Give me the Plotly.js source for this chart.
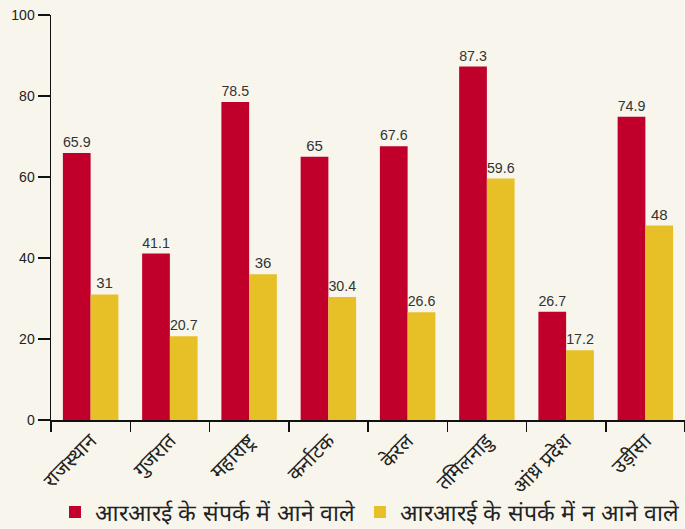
<!DOCTYPE html>
<html>
<head>
<meta charset="utf-8">
<script src="https://cdn.plot.ly/plotly-3.0.1.min.js"></script>
<style>
html,body{margin:0;padding:0;background:#f8f6ec;}
#chart{width:685px;height:529px;}
</style>
</head>
<body>
<div id="chart"></div>
<script>
var states = ['राजस्थान','गुजरात','महाराष्ट्र','कर्नाटक','केरल','तमिलनाडु','आंध्र प्रदेश','उड़ीसा'];
var exposed = [65.9, 41.1, 78.5, 65, 67.6, 87.3, 26.7, 74.9];
var notExposed = [31, 20.7, 36, 30.4, 26.6, 59.6, 17.2, 48];
var seriesNames = ['आरआरई के संपर्क में आने वाले', 'आरआरई के संपर्क में न आने वाले'];
var yTicks = [0, 20, 40, 60, 80, 100];

var labelFont = {family: 'Liberation Sans, Arial, sans-serif', size: 15, color: '#333'};

var traces = [
  {type:'bar', x: states, y: exposed, name: seriesNames[0], marker:{color:'#c0002b'},
   text: exposed.map(String), textposition:'outside', textfont: labelFont, cliponaxis:false},
  {type:'bar', x: states, y: notExposed, name: seriesNames[1], marker:{color:'#e6c026'},
   text: notExposed.map(String), textposition:'outside', textfont: labelFont, cliponaxis:false}
];

var layout = {
  width: 685, height: 529,
  paper_bgcolor:'#f8f6ec', plot_bgcolor:'#f8f6ec',
  margin:{l:51, r:0, t:15, b:109},
  barmode:'group', bargap:0.3, bargroupgap:0,
  font:{family:'Liberation Sans, Arial, sans-serif', color:'#222'},
  xaxis:{
    type:'category', showline:true, linecolor:'#111', linewidth:1.5, automargin:false,
    ticks:'outside', tickson:'boundaries', ticklen:10, tickcolor:'#111', tickwidth:1.5,
    tickangle:-45, tickfont:{size:20, color:'#222'}, showgrid:false, zeroline:false
  },
  yaxis:{
    range:[0,100], tickvals:yTicks, ticktext: yTicks.map(String), automargin:false,
    showline:true, linecolor:'#111', linewidth:1.5,
    ticks:'outside', ticklen:12, tickcolor:'#111', tickwidth:1.5,
    tickfont:{size:14, color:'#222'}, showgrid:false, zeroline:false
  },
  showlegend:true,
  legend:{orientation:'h', x:0.58, xanchor:'center', yref:'container', y:0.032, yanchor:'middle',
    font:{size:23, color:'#222'}, bgcolor:'rgba(0,0,0,0)'},
  uniformtext:{mode:false}
};

Plotly.newPlot('chart', traces, layout, {displayModeBar:false, staticPlot:true});
</script>
</body>
</html>
